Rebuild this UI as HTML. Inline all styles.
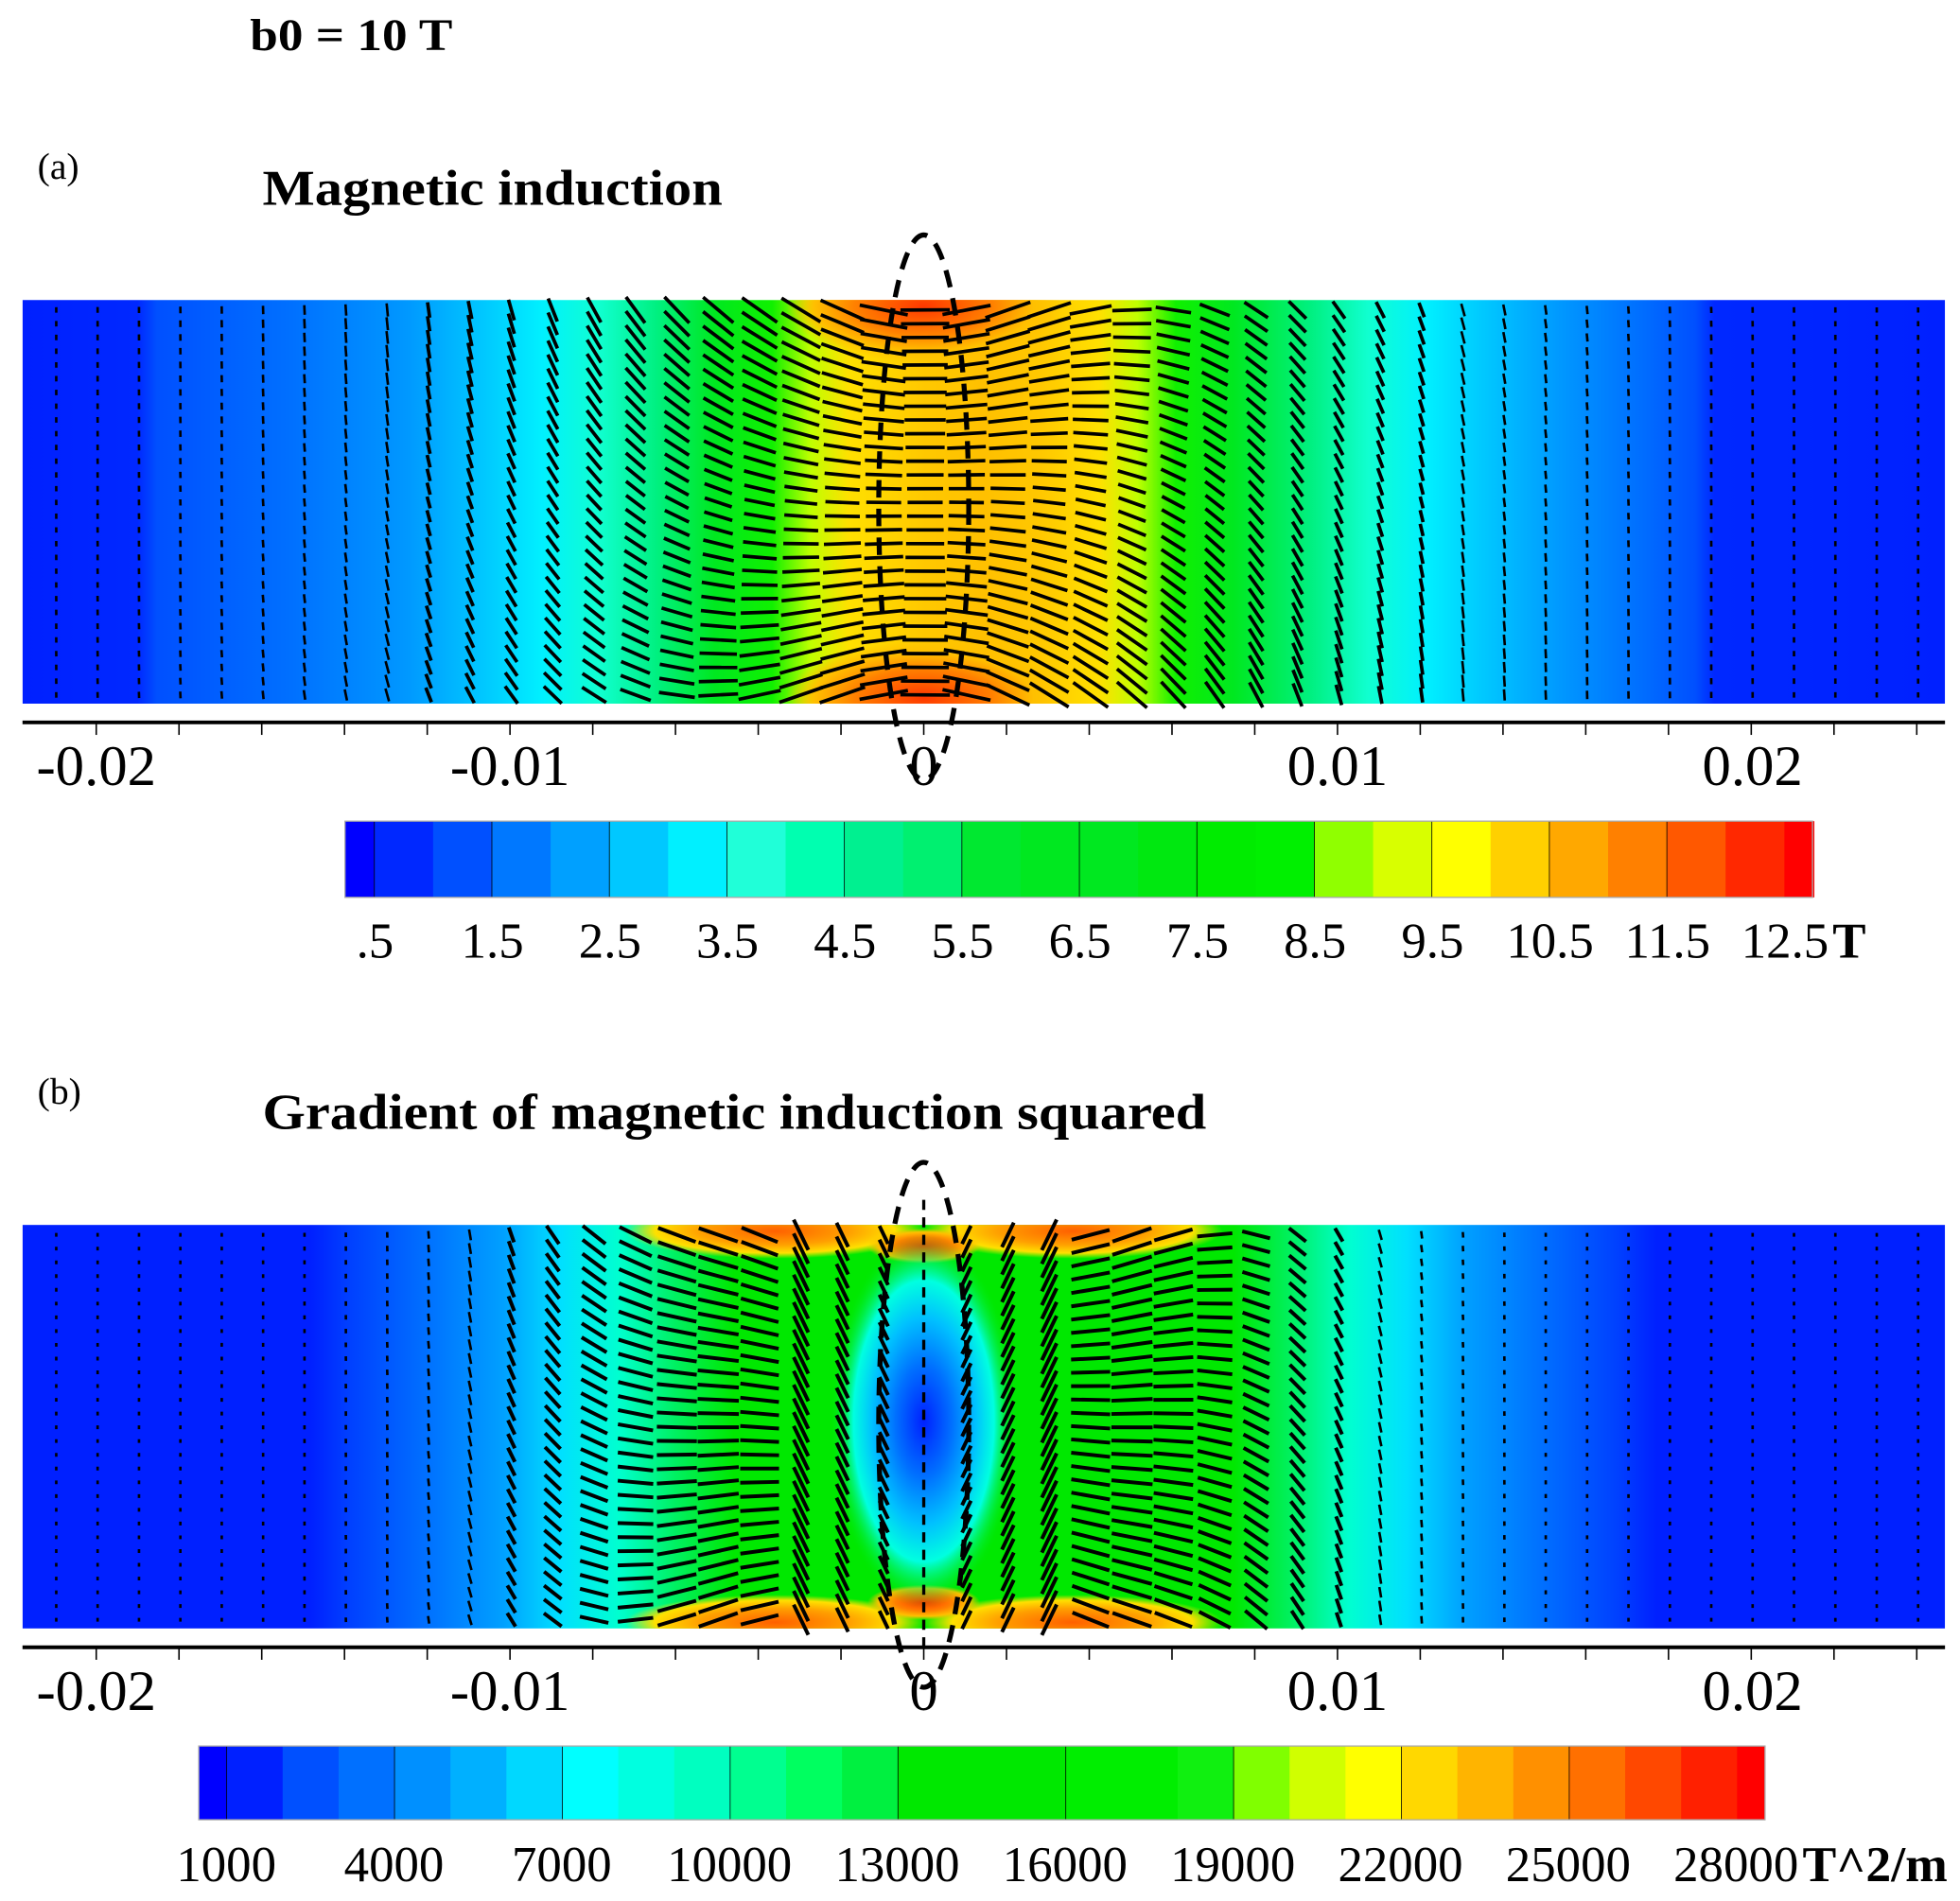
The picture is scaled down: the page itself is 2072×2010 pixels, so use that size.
<!DOCTYPE html>
<html><head><meta charset="utf-8"><style>
html,body{margin:0;padding:0;background:#fff;}
svg{display:block;}
text{font-family:"Liberation Serif",serif;}
</style></head><body>
<svg id="s" width="2072" height="2010" viewBox="0 0 1568 1521" preserveAspectRatio="none" xmlns="http://www.w3.org/2000/svg">
<defs>
<linearGradient id="ga" x1="18" x2="1556" y1="0" y2="0" gradientUnits="userSpaceOnUse">
<stop offset="0" stop-color="#0020ff"/>
<stop offset="0.06" stop-color="#0028ff"/>
<stop offset="0.07" stop-color="#0050ff"/>
<stop offset="0.14" stop-color="#0070ff"/>
<stop offset="0.2" stop-color="#0098ff"/>
<stop offset="0.24" stop-color="#00c8ff"/>
<stop offset="0.27" stop-color="#00f0ff"/>
<stop offset="0.3" stop-color="#10ffd0"/>
<stop offset="0.33" stop-color="#00f080"/>
<stop offset="0.36" stop-color="#00e820"/>
<stop offset="0.39" stop-color="#10f000"/>
<stop offset="0.41" stop-color="#c0ff00"/>
<stop offset="0.43" stop-color="#ffe000"/>
<stop offset="0.47" stop-color="#ffc800"/>
<stop offset="0.5" stop-color="#ffc000"/>
<stop offset="0.53" stop-color="#ffc800"/>
<stop offset="0.56" stop-color="#ffe000"/>
<stop offset="0.58" stop-color="#c0ff00"/>
<stop offset="0.6" stop-color="#10f000"/>
<stop offset="0.63" stop-color="#00e820"/>
<stop offset="0.67" stop-color="#00f080"/>
<stop offset="0.7" stop-color="#10ffd0"/>
<stop offset="0.73" stop-color="#00f0ff"/>
<stop offset="0.76" stop-color="#00c8ff"/>
<stop offset="0.8" stop-color="#0098ff"/>
<stop offset="0.84" stop-color="#0070ff"/>
<stop offset="0.87" stop-color="#0050ff"/>
<stop offset="0.88" stop-color="#0028ff"/>
<stop offset="1" stop-color="#0020ff"/>
</linearGradient>
<linearGradient id="gb" x1="18" x2="1556" y1="0" y2="0" gradientUnits="userSpaceOnUse">
<stop offset="0" stop-color="#0020ff"/>
<stop offset="0.15" stop-color="#0020ff"/>
<stop offset="0.17" stop-color="#0040ff"/>
<stop offset="0.21" stop-color="#0070ff"/>
<stop offset="0.25" stop-color="#00a0ff"/>
<stop offset="0.28" stop-color="#00e0ff"/>
<stop offset="0.31" stop-color="#00ffd0"/>
<stop offset="0.34" stop-color="#00f060"/>
<stop offset="0.37" stop-color="#00e800"/>
<stop offset="0.5" stop-color="#00e800"/>
<stop offset="0.63" stop-color="#00e800"/>
<stop offset="0.66" stop-color="#00f060"/>
<stop offset="0.69" stop-color="#00ffd0"/>
<stop offset="0.72" stop-color="#00e0ff"/>
<stop offset="0.75" stop-color="#00a0ff"/>
<stop offset="0.79" stop-color="#0070ff"/>
<stop offset="0.83" stop-color="#0040ff"/>
<stop offset="0.85" stop-color="#0020ff"/>
<stop offset="1" stop-color="#0020ff"/>
</linearGradient>
<radialGradient id="rc">
<stop offset="0" stop-color="#0020ff"/>
<stop offset="0.3" stop-color="#0070ff"/>
<stop offset="0.55" stop-color="#00c0ff"/>
<stop offset="0.75" stop-color="#00ffe0"/>
<stop offset="1" stop-color="#00e800" stop-opacity="0"/>
</radialGradient>
<radialGradient id="rr">
<stop offset="0" stop-color="#ff3800"/>
<stop offset="0.5" stop-color="#ff8000"/>
<stop offset="0.8" stop-color="#ffc000"/>
<stop offset="1" stop-color="#ffc000" stop-opacity="0"/>
</radialGradient>
<radialGradient id="ro">
<stop offset="0" stop-color="#ff6000"/>
<stop offset="0.5" stop-color="#ffa000"/>
<stop offset="0.8" stop-color="#ffe000"/>
<stop offset="1" stop-color="#ffe000" stop-opacity="0"/>
</radialGradient>
<clipPath id="ca"><rect x="18" y="240" width="1538" height="323"/></clipPath>
<clipPath id="cb"><rect x="18" y="980" width="1538" height="323"/></clipPath>
</defs>

<text x="200" y="40" font-size="36" font-weight="bold" textLength="162" lengthAdjust="spacingAndGlyphs">b0 = 10 T</text>
<text x="30" y="143" font-size="30">(a)</text>
<text x="210" y="164" font-size="40" font-weight="bold" textLength="368" lengthAdjust="spacingAndGlyphs">Magnetic induction</text>
<text x="30" y="883" font-size="30">(b)</text>
<text x="210" y="903" font-size="40" font-weight="bold" textLength="755" lengthAdjust="spacingAndGlyphs">Gradient of magnetic induction squared</text>

<g clip-path="url(#ca)">
<rect x="18" y="240" width="1538" height="323" fill="url(#ga)"/>
<ellipse cx="739" cy="245" rx="110" ry="45" fill="url(#rr)"/>
<ellipse cx="739" cy="558" rx="110" ry="45" fill="url(#rr)"/>
</g>
<g clip-path="url(#cb)">
<rect x="18" y="980" width="1538" height="323" fill="url(#gb)"/>
<ellipse cx="620" cy="985" rx="120" ry="22" fill="url(#ro)"/>
<ellipse cx="858" cy="985" rx="120" ry="22" fill="url(#ro)"/>
<ellipse cx="620" cy="1298" rx="120" ry="22" fill="url(#ro)"/>
<ellipse cx="858" cy="1298" rx="120" ry="22" fill="url(#ro)"/>
<ellipse cx="739" cy="997" rx="45" ry="14" fill="url(#rr)"/>
<ellipse cx="739" cy="1282" rx="45" ry="14" fill="url(#rr)"/>
<ellipse cx="739" cy="1137" rx="75" ry="150" fill="url(#rc)"/>
</g>
<g id="arr" stroke="#000" fill="none" stroke-linecap="butt"></g>

<ellipse cx="739" cy="406" rx="36" ry="218" fill="none" stroke="#000" stroke-width="4" stroke-dasharray="14 9"/>
<ellipse cx="739" cy="1140" rx="36" ry="210" fill="none" stroke="#000" stroke-width="4" stroke-dasharray="14 9"/>

<g id="axes" stroke="#000"></g>
<g id="lab" font-size="46" text-anchor="middle"></g>
<g id="cbar"></g>
</svg>
<script>
var NS="http://www.w3.org/2000/svg";
function el(p,t,a,txt){var e=document.createElementNS(NS,t);for(var k in a)e.setAttribute(k,a[k]);if(txt!=null)e.textContent=txt;p.appendChild(e);return e;}
var arr=document.getElementById('arr'),axes=document.getElementById('axes'),lab=document.getElementById('lab'),cb=document.getElementById('cbar');
for(var x=45;x<1556;x+=33.1){
 var dx=x-739,w=Math.exp(-Math.pow(dx/330,2));
 for(var y=248;y<560;y+=11){
  var dy=(y-401)/160;
  var L=4+30*w*(0.8+0.4*Math.abs(dy));
  var hx=w, hy=(1-w)*1.2;
  var ang=Math.atan2(hy,hx);
  var tilt=-dy*0.5*w*(dx>0?-1:1)*Math.min(1,Math.abs(dx)/80);
  ang+=tilt;
  var c=Math.cos(ang)*L/2,s=Math.sin(ang)*L/2;
  el(arr,'line',{x1:x-c,y1:y-s,x2:x+c,y2:y+s,'stroke-width':(w>0.2?2.8:2)});
 }
}
for(var x=45;x<1556;x+=33.1){
 var dx=x-739,adx=Math.abs(dx);
 var m=Math.exp(-Math.pow((adx-170)/150,2));
 if(adx<15){el(arr,'line',{x1:739,y1:960,x2:739,y2:1318,'stroke-width':2.5,'stroke-dasharray':'8 6'});continue;}
 for(var y=988;y<1300;y+=11){
  var dy=(y-1141)/160;
  var L=3+30*m;
  var sgn=dx>0?-1:1;
  var ang=Math.atan2((1-m),m);
  ang+= -dy*0.35*m*sgn;
  if(adx<120) ang = Math.PI/2 - sgn*0.45;
  var c=Math.cos(ang)*L/2,s=Math.sin(ang)*L/2;
  el(arr,'line',{x1:x-c,y1:y-s,x2:x+c,y2:y+s,'stroke-width':(m>0.3?3:2)});
 }
}
[[578,628],[1318,1368]].forEach(function(p){
 el(axes,'line',{x1:18,y1:p[0],x2:1556,y2:p[0],'stroke-width':3});
 for(var i=-11;i<=12;i++){var x=739+i*66.2;if(x<18||x>1556)continue;
  el(axes,'line',{x1:x,y1:p[0],x2:x,y2:p[0]+10,'stroke-width':1.2});}
 [['-0.02',77],['-0.01',408],['0',739],['0.01',1070],['0.02',1402]].forEach(function(t){el(lab,'text',{x:t[1],y:p[1]},t[0]);});
});
var ca=['#0000ff','#0028ff','#0050ff','#0078ff','#00a0ff','#00c8ff','#00f0ff','#20ffd8','#00ffb0','#00f090','#00f070','#00e830','#00e820','#00e820','#00e810','#00ec00','#00f000','#90ff00','#d8ff00','#ffff00','#ffd000','#ffa800','#ff8000','#ff5800','#ff2800','#ff0000'];
var x0=276;
for(var i=0;i<ca.length;i++){var w=(i==0||i==ca.length-1)?23.5:47;el(cb,'rect',{x:x0,y:657,width:w+0.5,height:61,fill:ca[i]});
 if(i%2==1&&i<ca.length-1)el(cb,'line',{x1:x0,y1:657,x2:x0,y2:718,stroke:'#000','stroke-width':0.6});x0+=w;}
el(cb,'rect',{x:276,y:657,width:1174,height:61,fill:'none',stroke:'#aaa','stroke-width':1});
['.5','1.5','2.5','3.5','4.5','5.5','6.5','7.5','8.5','9.5','10.5','11.5','12.5'].forEach(function(t,i){el(cb,'text',{x:300+i*94,y:766,'font-size':40,'text-anchor':'middle'},t);});
el(cb,'text',{x:1466,y:766,'font-size':40,'font-weight':'bold'},'T');
var cbb=['#0000ff','#0020ff','#0050ff','#0070ff','#0090ff','#00b0ff','#00d8ff','#00ffff','#00ffe0','#00ffc0','#00ff90','#00ff60','#00f040','#00e800','#00e800','#00e800','#00ee00','#00ee00','#10f010','#80ff00','#d0ff00','#ffff00','#ffd800','#ffb400','#ff9000','#ff7000','#ff4800','#ff2000','#ff0000'];
x0=159;var cw=(1412-159-44.7)/(cbb.length-2);
for(var i=0;i<cbb.length;i++){var w=(i==0||i==cbb.length-1)?22.35:cw;el(cb,'rect',{x:x0,y:1397,width:w+0.5,height:59,fill:cbb[i]});
 if(i%3==1&&i<cbb.length-1)el(cb,'line',{x1:x0,y1:1397,x2:x0,y2:1456,stroke:'#000','stroke-width':0.6});x0+=w;}
el(cb,'rect',{x:159,y:1397,width:1253,height:59,fill:'none',stroke:'#aaa','stroke-width':1});
['1000','4000','7000','10000','13000','16000','19000','22000','25000','28000'].forEach(function(t,i){el(cb,'text',{x:181+i*134.2,y:1505,'font-size':40,'text-anchor':'middle'},t);});
el(cb,'text',{x:1442,y:1505,'font-size':40,'font-weight':'bold',textLength:116,lengthAdjust:'spacingAndGlyphs'},'T^2/m');
</script>
</body></html>
